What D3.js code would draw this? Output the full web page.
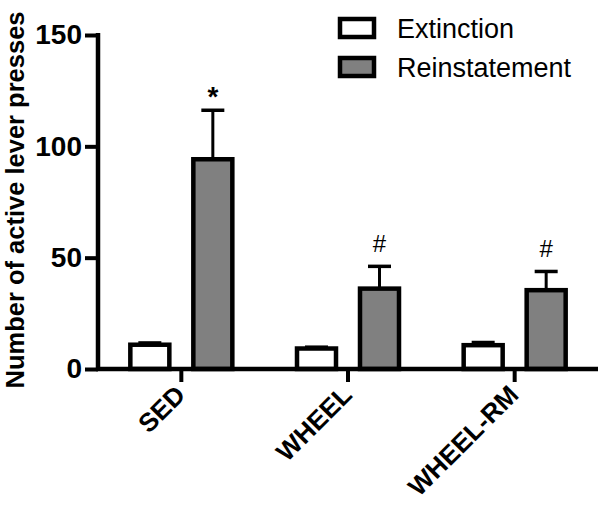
<!DOCTYPE html>
<html>
<head>
<meta charset="utf-8">
<script src="https://cdn.jsdelivr.net/npm/d3@7"></script>
<style>
html,body{margin:0;padding:0;background:#fff;}
svg{display:block;}
text{font-family:"Liberation Sans",Arial,Helvetica,sans-serif;}
</style>
</head>
<body>
<svg id="chart" width="600" height="507"></svg>
<script>
const categories = ["SED", "WHEEL", "WHEEL-RM"];
const seriesNames = ["Extinction", "Reinstatement"];
const extinction = [10.9, 9.2, 10.7];
const extinctionErr = [0.8, 0.6, 1.2];
const reinstatement = [94.2, 36.1, 35.4];
const reinstatementErr = [22, 10, 8.4];
const annotations = ["*", "#", "#"];
const yTicks = [0, 50, 100, 150];

const svg = d3.select("#chart");
const x = d3.scaleBand().domain(categories).range([98, 598]).paddingInner(0).paddingOuter(0);
const y = d3.scaleLinear().domain([0, 150]).range([369, 35]);

const series = [
  {name: seriesNames[0], values: extinction, err: extinctionErr, fill: "#ffffff", off: -31.5},
  {name: seriesNames[1], values: reinstatement, err: reinstatementErr, fill: "#808080", off: 31.5}
];
const barW = 39;

// error bars
series.forEach(s => {
  const g = svg.append("g");
  categories.forEach((c, i) => {
    const cx = x(c) + x.bandwidth() / 2 + s.off;
    g.append("line").attr("x1", cx).attr("x2", cx)
      .attr("y1", y(s.values[i])).attr("y2", y(s.values[i] + s.err[i]))
      .attr("stroke", "#000").attr("stroke-width", 3);
    g.append("line").attr("x1", cx - 11.5).attr("x2", cx + 11.5)
      .attr("y1", y(s.values[i] + s.err[i])).attr("y2", y(s.values[i] + s.err[i]))
      .attr("stroke", "#000").attr("stroke-width", 3.5);
  });
});

// bars
series.forEach(s => {
  svg.append("g").selectAll("rect").data(categories).join("rect")
    .attr("x", (c) => x(c) + x.bandwidth() / 2 + s.off - barW / 2)
    .attr("y", (c, i) => y(s.values[i]))
    .attr("width", barW)
    .attr("height", (c, i) => y(0) - y(s.values[i]))
    .attr("fill", s.fill)
    .attr("stroke", "#000")
    .attr("stroke-width", 4.5);
});

// annotations
categories.forEach((c, i) => {
  const cx = x(c) + x.bandwidth() / 2 + series[1].off;
  const top = y(reinstatement[i] + reinstatementErr[i]);
  const isStar = annotations[i] === "*";
  svg.append("text").attr("x", cx).attr("y", isStar ? top - 4 : top - 14)
    .attr("text-anchor", "middle")
    .attr("font-size", isStar ? 28 : 24)
    .attr("font-weight", isStar ? "bold" : "normal")
    .text(annotations[i]);
});

// y axis
const yAxis = svg.append("g").attr("transform", "translate(98,0)")
  .call(d3.axisLeft(y).tickValues(yTicks).tickSize(13).tickPadding(3).tickFormat(d3.format("d")));
yAxis.select(".domain").attr("stroke", "#000").attr("stroke-width", 4.5).attr("d", "M0,33V371");
yAxis.selectAll(".tick line").attr("stroke", "#000").attr("stroke-width", 4);
yAxis.selectAll(".tick text").attr("font-size", 28).attr("font-weight", "bold").attr("fill", "#000")
  .style("font-family", '"Liberation Sans",Arial,sans-serif');

// x axis
const xAxis = svg.append("g").attr("transform", "translate(0,369)")
  .call(d3.axisBottom(x).tickSize(13).tickPadding(6));
xAxis.select(".domain").attr("stroke", "#000").attr("stroke-width", 4.5).attr("d", "M96,0H598");
xAxis.selectAll(".tick line").attr("stroke", "#000").attr("stroke-width", 4);
xAxis.selectAll(".tick text")
  .attr("font-size", 26).attr("font-weight", "bold").attr("fill", "#000")
  .style("font-family", '"Liberation Sans",Arial,sans-serif')
  .attr("text-anchor", "end")
  .attr("dy", "0")
  .attr("transform", "translate(-8,14) rotate(-45)");

// y axis title
svg.append("text")
  .attr("transform", "translate(24,200) rotate(-90)")
  .attr("text-anchor", "middle")
  .attr("font-size", 25.5).attr("font-weight", "bold")
  .text("Number of active lever presses");

// legend
const legend = svg.append("g");
series.forEach((s, i) => {
  legend.append("rect").attr("x", 340).attr("y", 19 + i * 39).attr("width", 34).attr("height", 18)
    .attr("fill", s.fill).attr("stroke", "#000").attr("stroke-width", 4.5);
  legend.append("text").attr("x", 397).attr("y", 38 + i * 39)
    .attr("font-size", 27).text(s.name);
});
</script>
</body>
</html>
